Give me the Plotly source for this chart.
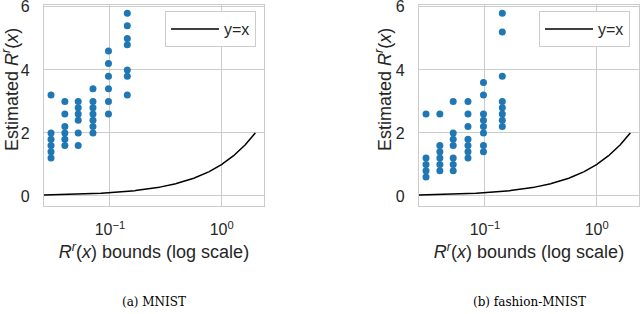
import numpy as np
import plotly.graph_objects as go

# Data
bounds = [0.0297, 0.0395, 0.052, 0.0705, 0.097, 0.143]
mnist_est = [
    [3.2, 2.0, 1.8, 1.6, 1.4, 1.2],
    [3.0, 2.6, 2.2, 2.0, 1.8, 1.6],
    [3.0, 2.8, 2.6, 2.4, 2.0, 1.6],
    [3.4, 3.0, 2.8, 2.6, 2.4, 2.2, 2.0],
    [4.6, 4.2, 3.8, 3.4, 3.0, 2.6],
    [5.8, 5.4, 5.0, 4.8, 4.0, 3.8, 3.2],
]
fashion_est = [
    [2.6, 1.2, 1.0, 0.8, 0.6],
    [2.6, 1.6, 1.4, 1.2, 1.0, 0.8],
    [3.0, 2.0, 1.8, 1.6, 1.2, 1.0, 0.8],
    [3.0, 2.6, 2.2, 1.8, 1.6, 1.4, 1.2],
    [3.6, 3.2, 2.6, 2.4, 2.2, 2.0, 1.6, 1.4],
    [5.8, 5.2, 3.8, 3.0, 2.8, 2.6, 2.4, 2.2],
]
line_x = np.geomspace(0.0255, 2.0, 400)
line_y = line_x  # reference line y = x
captions = ["(a) MNIST", "(b) fashion-MNIST"]
x_tickvals = [0.1, 1.0]
x_ticktext = ["10<sup>\u22121</sup>", "10<sup>0</sup>"]
y_tickvals = [0, 2, 4, 6]
x_title_text = "<i>R</i><sup><i>r</i></sup>(<i>x</i>) bounds (log scale)"
y_title_text = "Estimated <i>R</i><sup><i>r</i></sup>(<i>x</i>)"

H = 314.0
W = 640.0
x_domains = [(44 / W, 264 / W), (419 / W, 639 / W)]
y_domain = ((H - 206) / H, (H - 5) / H)
ytitle_pos = [(10, 90), (383, 90)]

FONT = "Liberation Sans"
TXT = "#262626"
fig = go.Figure()
grid = "#cccccc"
tickfont = dict(family=FONT, size=16, color=TXT)

for i, est in enumerate([mnist_est, fashion_est]):
    xs, ys = [], []
    for b, col in zip(bounds, est):
        xs += [b] * len(col)
        ys += col
    xa = "x" if i == 0 else "x2"
    ya = "y" if i == 0 else "y2"
    lg = "legend" if i == 0 else "legend2"
    fig.add_trace(go.Scatter(x=list(line_x), y=list(line_y), mode="lines",
                             line=dict(color="black", width=1.5), name="y=x",
                             xaxis=xa, yaxis=ya, legend=lg, showlegend=True))
    fig.add_trace(go.Scatter(x=xs, y=ys, mode="markers",
                             marker=dict(color="#1f77b4", size=7, line=dict(width=0)),
                             xaxis=xa, yaxis=ya, showlegend=False))

axis_common = dict(showline=True, mirror=True, linecolor=grid, linewidth=1.25,
                   showgrid=True, gridcolor=grid, gridwidth=1, zeroline=False,
                   ticks="", tickfont=tickfont, automargin=False,
                   ticklabeloverflow="allow")

xtitle = dict(text=x_title_text, font=dict(family=FONT, size=18, color=TXT), standoff=8)

for i in range(2):
    sfx = "" if i == 0 else "2"
    fig.layout["xaxis" + sfx] = dict(axis_common, type="log", domain=x_domains[i],
                                     range=[np.log10(0.0257), np.log10(2.39)],
                                     tickvals=x_tickvals, ticktext=x_ticktext,
                                     anchor="y" + sfx, title=xtitle, ticklabelstandoff=9)
    fig.layout["yaxis" + sfx] = dict(axis_common, domain=y_domain, range=[-0.32, 6.06],
                                     tickvals=y_tickvals, anchor="x" + sfx,
                                     ticklabelstandoff=10)
    tx, ty = ytitle_pos[i]
    fig.add_annotation(text=y_title_text, x=tx / W, y=(H - ty) / H, xref="paper",
                       yref="paper", showarrow=False, textangle=-90,
                       xanchor="center", yanchor="middle",
                       font=dict(family=FONT, size=18, color=TXT))

legend_common = dict(bgcolor="white", bordercolor=grid, borderwidth=1,
                     font=dict(family=FONT, size=16, color=TXT),
                     xanchor="right", yanchor="top", itemwidth=48)
fig.update_layout(
    legend=dict(legend_common, x=256 / W, y=(H - 11) / H),
    legend2=dict(legend_common, x=630 / W, y=(H - 11) / H),
)

for i, cap in enumerate(captions):
    cx = (x_domains[i][0] + x_domains[i][1]) / 2
    fig.add_annotation(text=cap, x=cx, y=(H - 302) / H, xref="paper", yref="paper",
                       showarrow=False, xanchor="center", yanchor="middle",
                       font=dict(family="DejaVu Serif", size=12, color="black"))

fig.update_layout(width=640, height=314, margin=dict(l=0, r=0, t=0, b=0),
                  paper_bgcolor="white", plot_bgcolor="white")
fig.write_html("out.html", config={"displayModeBar": False},
               post_script="document.body.style.margin='0px';")
